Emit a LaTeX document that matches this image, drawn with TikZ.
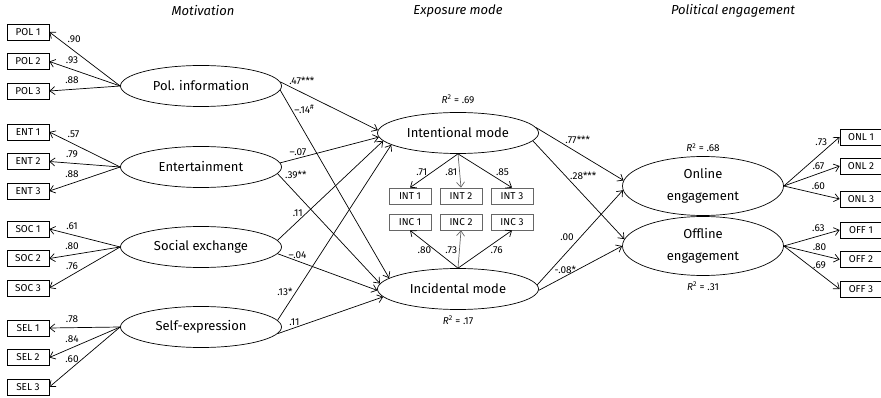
\documentclass[tikz,border=0pt]{standalone}
\usepackage{fontspec}
\setmainfont{Fira Sans}
\usepackage{tikz}
\usetikzlibrary{arrows.meta,positioning,shapes.geometric}

\begin{document}
\begin{tikzpicture}[x=1pt,y=-1pt,->,>={Straight Barb[length=5pt,width=8pt]},line width=0.7pt,node distance=29.5pt,
	latent/.style={draw,ellipse,minimum width=161pt,minimum height=41pt,inner sep=0pt,font=\fontsize{13}{22}\selectfont},
	item/.style={draw,rectangle,minimum width=42pt,minimum height=16pt,inner sep=0pt,font=\fontsize{10}{12}\selectfont},
	graybox/.style={item,draw=black!60},
	lab/.style={font=\fontsize{10}{12}\selectfont,inner sep=1pt},
	head/.style={font=\itshape\fontsize{13}{15}\selectfont}]
	\clip (0,0) rectangle (881,398);

	% column headings
	\node[head]			(hmot)	at (203,11)				{Motivation};
	\node[head]			(hexp)	at (458,11)				{Exposure mode};
	\node[head]			(heng)	at (733,11)				{Political engagement};

	% motivation
	\node[latent]		(pol)	at (201,86)				{Pol. information};
	\node[latent]		(ent)	at (201,167)			{Entertainment};
	\node[latent]		(soc)	at (201,247)			{Social exchange};
	\node[latent]		(sel)	at (201,327)			{Self-expression};

	\node[item]			(pol1)	at (28,32)				{POL 1};
	\node[item]			(pol2)	[below of=pol1]			{POL 2};
	\node[item]			(pol3)	[below of=pol2]			{POL 3};
	\node[item]			(ent1)	at (28,132)				{ENT 1};
	\node[item]			(ent2)	[below of=ent1]			{ENT 2};
	\node[item]			(ent3)	[below of=ent2]			{ENT 3};
	\node[item]			(soc1)	at (28,229)				{SOC 1};
	\node[item]			(soc2)	[below of=soc1]			{SOC 2};
	\node[item]			(soc3)	[below of=soc2]			{SOC 3};
	\node[item]			(sel1)	at (28,328)				{SEL 1};
	\node[item]			(sel2)	[below of=sel1]			{SEL 2};
	\node[item]			(sel3)	[below of=sel2]			{SEL 3};

	% exposure mode
	\node[latent]		(int)	at (458,133)			{Intentional mode};
	\node[latent]		(inc)	at (458,289)			{Incidental mode};
	\node[lab]			(r2int)	[above=7pt of int]		{\textit{R}\textsuperscript{2} = .69};
	\node[lab]			(r2inc)	[below=5pt of inc]		{\textit{R}\textsuperscript{2} = .17};

	\node[graybox]		(int1)	at (410,196)			{INT 1};
	\node[graybox]		(int2)	at (461,196)			{INT 2};
	\node[graybox]		(int3)	at (512,196)			{INT 3};
	\node[graybox]		(inc1)	at (410,222)			{INC 1};
	\node[graybox]		(inc2)	at (461,222)			{INC 2};
	\node[graybox]		(inc3)	at (512,222)			{INC 3};

	% political engagement
	\node[latent,minimum height=59pt,align=center]	(onl)	at (703,186)	{Online\\engagement};
	\node[latent,minimum height=59pt,align=center]	(off)	at (703,246)	{Offline\\engagement};
	\node[lab]			(r2onl)	[above=3pt of onl]		{\textit{R}\textsuperscript{2} = .68};
	\node[lab]			(r2off)	[below=5pt of off]		{\textit{R}\textsuperscript{2} = .31};

	\node[item]			(onl1)	at (861,137)			{ONL 1};
	\node[item]			(onl2)	at (861,166)			{ONL 2};
	\node[item]			(onl3)	at (861,199)			{ONL 3};
	\node[item]			(off1)	at (861,230)			{OFF 1};
	\node[item]			(off2)	[below of=off1]			{OFF 2};
	\node[item]			(off3)	[below of=off2]			{OFF 3};

	% measurement paths
	\path
		(pol.west)	edge	node[lab,pos=.77,above right=1pt]	{.90}	(pol1.east)
		(pol.west)	edge	node[lab,pos=.68,above=4pt]			{.93}	(pol2.east)
		(pol.west)	edge	node[lab,pos=.68,above=4pt]			{.88}	(pol3.east)
		(ent.west)	edge	node[lab,pos=.77,above right=1pt]	{.57}	(ent1.east)
		(ent.west)	edge	node[lab,pos=.68,above=4pt]			{.79}	(ent2.east)
		(ent.west)	edge	node[lab,pos=.68,above=4pt]			{.88}	(ent3.east)
		(soc.west)	edge	node[lab,pos=.68,above=4pt]			{.61}	(soc1.east)
		(soc.west)	edge	node[lab,pos=.68,above=4pt]			{.80}	(soc2.east)
		(soc.west)	edge	node[lab,pos=.68,above=4pt]			{.76}	(soc3.east)
		(sel.west)	edge	node[lab,pos=.68,above=4pt]			{.78}	(sel1.east)
		(sel.west)	edge	node[lab,pos=.68,above=4pt]			{.84}	(sel2.east)
		(sel.west)	edge	node[lab,pos=.68,above=4pt]			{.60}	(sel3.east)
		(int.south)	edge	node[lab,pos=.55,left=3pt]			{.71}	(int1.north)
		(int.south)	edge[black!60]	node[lab,pos=.55,left=1pt,black]	{.81}	(int2.north)
		(int.south)	edge	node[lab,pos=.55,right=7pt]			{.85}	(int3.north)
		(inc.north)	edge	node[lab,pos=.47,left=3pt]			{.80}	(inc1.south)
		(inc.north)	edge[black!60]	node[lab,pos=.47,left=1pt,black]	{.73}	(inc2.south)
		(inc.north)	edge	node[lab,pos=.47,right=6pt]			{.76}	(inc3.south)
		(onl.east)	edge	node[lab,pos=.8,above left=0pt]		{.73}	(onl1.west)
		(onl.east)	edge	node[lab,pos=.62,above=3pt]			{.67}	(onl2.west)
		(onl.east)	edge	node[lab,pos=.62,above=3pt]			{.60}	(onl3.west)
		(off.east)	edge	node[lab,pos=.62,above=3pt]			{.63}	(off1.west)
		(off.east)	edge	node[lab,pos=.64,above=3pt]			{.80}	(off2.west)
		(off.east)	edge	node[lab,pos=.64,above=3pt]			{.69}	(off3.west)
	;

	% structural paths
	\path
		(pol.3)		edge	node[lab,pos=.08,anchor=south west]	{.47***}	(int.178)
		(pol.-3)	edge	node[lab,pos=.1,right=2pt]			{--.14\textsuperscript{\#}}	(inc.171)
		(ent.3)		edge	node[lab,pos=.18,above=1pt]			{--.07}		(int.183)
		(ent.-5)	edge	node[lab,pos=.06,anchor=south west]	{.39**}		(inc.176)
		(soc.5)		edge	node[lab,pos=.27,left=2pt]			{.11}		(int.186)
		(soc.-5)	edge	node[lab,pos=.2,above=1pt]			{--.04}		(inc.181)
		(sel.5)		edge	node[lab,pos=.16,left=2pt]			{.13*}		(int.190)
		(sel.-5)	edge	node[lab,pos=.16,above=1pt]			{.11}		(inc.186)
		(int.4)		edge	node[lab,pos=.32,anchor=south west]	{.77***}	(onl.176)
		(int.-6)	edge	node[lab,pos=.36,right=3pt]			{.28***}	(off.175)
		(inc.3)		edge	node[lab,pos=.5,left=5pt]			{.00}		(onl.183)
		(inc.-1)	edge	node[lab,pos=.32,above=1pt]			{-.08*}		(off.180)
	;
\end{tikzpicture}
\end{document}
